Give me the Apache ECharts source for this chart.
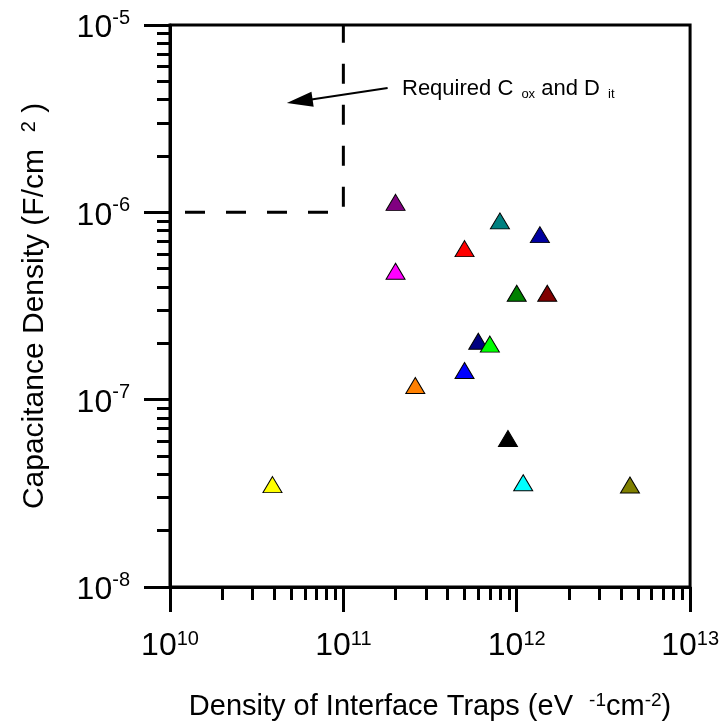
<!DOCTYPE html>
<html>
<head>
<meta charset="utf-8">
<script src="https://cdn.jsdelivr.net/npm/echarts@6/dist/echarts.min.js"></script>
<style>
  html, body { margin: 0; padding: 0; background: #ffffff; }
  #chart { width: 722px; height: 728px; }
</style>
</head>
<body>
<div id="chart"></div>
<script>
// Density of interface traps (eV^-1 cm^-2) for each reported gate stack
const dit = [2.0e11, 8.0e11, 1.36e12, 5.0e11, 2.0e11, 1.0e12, 1.5e12, 6.0e11, 7.0e11, 5.0e11, 2.6e11, 8.9e11, 3.9e10, 1.09e12, 4.5e12];
// Capacitance density (F/cm^2) for the same stacks
const cox = [1.13e-6, 9.0e-7, 7.6e-7, 6.4e-7, 4.85e-7, 3.7e-7, 3.7e-7, 2.05e-7, 1.98e-7, 1.43e-7, 1.19e-7, 6.2e-8, 3.52e-8, 3.6e-8, 3.5e-8];
const markerColors = ['#800080', '#008080', '#0000a0', '#ff0000', '#ff00ff', '#008000', '#800000', '#000080', '#00ff00', '#0000ff', '#ff8000', '#000000', '#ffff00', '#00ffff', '#808000'];

// Required region corner: Cox >= 1e-6 F/cm^2 and Dit <= 1e11
const requiredDit = [1e10, 1e11, 1e11];
const requiredCox = [1e-6, 1e-6, 1e-5];

// Annotation arrow (from label toward the required region)
const arrowFrom = [1.8e11, 4.61e-6];
const arrowTo = [5.6e10, 3.92e-6];

// Axis ranges and tick labels
const xRange = [1e10, 1e13];
const yRange = [1e-8, 1e-5];
const xTickExponents = ['10', '11', '12', '13'];
const yTickExponents = ['-8', '-7', '-6', '-5'];
const xMinorTicks = [2e10, 3e10, 4e10, 5e10, 6e10, 7e10, 8e10, 9e10,
                     2e11, 3e11, 4e11, 5e11, 6e11, 7e11, 8e11, 9e11,
                     2e12, 3e12, 4e12, 5e12, 6e12, 7e12, 8e12, 9e12];
const yMinorTicks = [2e-8, 3e-8, 4e-8, 5e-8, 6e-8, 7e-8, 8e-8, 9e-8,
                     2e-7, 3e-7, 4e-7, 5e-7, 6e-7, 7e-7, 8e-7, 9e-7,
                     2e-6, 3e-6, 4e-6, 5e-6, 6e-6, 7e-6, 8e-6, 9e-6];

const FONT = "'Liberation Sans', Arial, Helvetica, sans-serif";
const axisLineStyle = { color: '#000', width: 3 };

const tickRich = {
  b: { fontFamily: FONT, fontSize: 32, color: '#000', lineHeight: 34 },
  e: { fontFamily: FONT, fontSize: 20, color: '#000', verticalAlign: 'top', lineHeight: 20 }
};
const yTickRich = {
  b: { fontFamily: FONT, fontSize: 32, color: '#000', lineHeight: 34, padding: [7, 0, 0, 0] },
  e: { fontFamily: FONT, fontSize: 20, color: '#000', verticalAlign: 'top', lineHeight: 20 }
};

const points = dit.map((x, i) => ({
  value: [x, cox[i]],
  itemStyle: { color: markerColors[i] }
}));

const chart = echarts.init(document.getElementById('chart'), null, { renderer: 'canvas' });

chart.setOption({
  animation: false,
  backgroundColor: '#ffffff',
  grid: {
    left: 170, right: 31, top: 25, bottom: 141,
    show: true, borderColor: '#000', borderWidth: 3, backgroundColor: 'transparent'
  },
  xAxis: [
    {
      type: 'log', logBase: 10, min: xRange[0], max: xRange[1], position: 'bottom',
      splitLine: { show: false },
      axisLine: { show: true, lineStyle: axisLineStyle },
      axisTick: { show: true, inside: false, length: 25, lineStyle: axisLineStyle },
      axisLabel: {
        margin: 42,
        formatter: (v, i) => '{b|10}{e|' + xTickExponents[i] + '}',
        rich: tickRich
      },
      name: '{t|Density of Interface Traps (eV  }{s|-1}{t|cm}{s|-2}{t|)}',
      nameLocation: 'middle',
      nameGap: 104,
      nameTextStyle: {
        rich: {
          t: { fontFamily: FONT, fontSize: 29, color: '#000', lineHeight: 32 },
          s: { fontFamily: FONT, fontSize: 19, color: '#000', verticalAlign: 'top', lineHeight: 19 }
        }
      }
    },
    {
      type: 'log', logBase: 10, min: xRange[0], max: xRange[1], position: 'bottom',
      splitLine: { show: false },
      axisLine: { show: false },
      axisLabel: { show: false },
      axisTick: { show: true, inside: false, length: 13, customValues: xMinorTicks, lineStyle: axisLineStyle }
    }
  ],
  yAxis: [
    {
      type: 'log', logBase: 10, min: yRange[0], max: yRange[1], position: 'left',
      splitLine: { show: false },
      axisLine: { show: true, lineStyle: axisLineStyle },
      axisTick: { show: true, inside: false, length: 26, lineStyle: axisLineStyle },
      axisLabel: {
        margin: 40,
        formatter: (v, i) => '{b|10}{e|' + yTickExponents[i] + '}',
        rich: yTickRich
      },
      name: '{t|Capacitance Density (F/cm  }{s|2}{t| )}',
      nameLocation: 'middle',
      nameGap: 119,
      nameTextStyle: {
        rich: {
          t: { fontFamily: FONT, fontSize: 30, color: '#000', lineHeight: 32 },
          s: { fontFamily: FONT, fontSize: 20, color: '#000', verticalAlign: 'top', lineHeight: 20 }
        }
      }
    },
    {
      type: 'log', logBase: 10, min: yRange[0], max: yRange[1], position: 'left',
      splitLine: { show: false },
      axisLine: { show: false },
      axisLabel: { show: false },
      axisTick: { show: true, inside: false, length: 13, customValues: yMinorTicks, lineStyle: axisLineStyle }
    }
  ],
  series: [
    {
      name: 'Required region',
      type: 'line',
      data: requiredDit.map((x, i) => [x, requiredCox[i]]),
      showSymbol: false,
      silent: true,
      lineStyle: { color: '#000', width: 3, type: [20, 21], dashOffset: 26 },
      markLine: {
        silent: true,
        symbol: ['none', 'triangle'],
        symbolSize: [15, 26],
        label: { show: false },
        lineStyle: { color: '#000', width: 2, type: 'solid' },
        data: [[{ coord: arrowFrom }, { coord: arrowTo }]]
      },
      z: 3
    },
    {
      name: 'Reported stacks',
      type: 'scatter',
      symbol: 'triangle',
      symbolSize: [19, 16],
      data: points,
      itemStyle: { borderColor: '#000', borderWidth: 1, opacity: 1 },
      z: 4
    }
  ],
  graphic: [
    {
      type: 'text',
      left: 402,
      top: 78,
      style: {
        text: '{n|Required C }{s|ox}{n| and D }{s|it}',
        rich: {
          n: { fontFamily: FONT, fontSize: 22, fill: '#000', lineHeight: 24 },
          s: { fontFamily: FONT, fontSize: 13, fill: '#000', verticalAlign: 'bottom', lineHeight: 13, padding: [4, 0, 0, 2] }
        }
      }
    }
  ]
});
</script>
</body>
</html>
